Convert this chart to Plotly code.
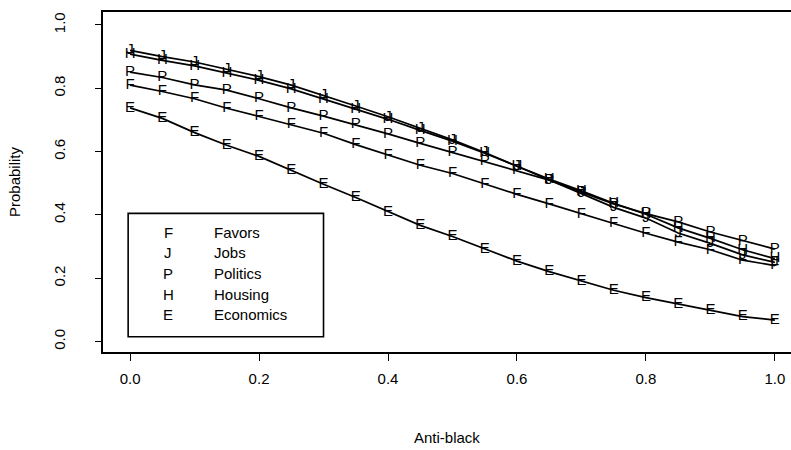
import plotly.graph_objects as go

# ---- data ----
anti_black = [0.0, 0.05, 0.10, 0.15, 0.20, 0.25, 0.30, 0.35, 0.40, 0.45, 0.50,
              0.55, 0.60, 0.65, 0.70, 0.75, 0.80, 0.85, 0.90, 0.95, 1.00]

favors = [0.810, 0.790, 0.767, 0.737, 0.711, 0.685, 0.658, 0.622, 0.590, 0.557, 0.531,
          0.498, 0.465, 0.435, 0.403, 0.373, 0.342, 0.314, 0.290, 0.257, 0.240]
jobs = [0.920, 0.900, 0.883, 0.860, 0.837, 0.810, 0.778, 0.744, 0.710, 0.673, 0.637,
        0.597, 0.554, 0.510, 0.468, 0.424, 0.390, 0.343, 0.310, 0.274, 0.250]
politics = [0.851, 0.834, 0.811, 0.794, 0.767, 0.738, 0.712, 0.685, 0.656, 0.626, 0.597,
            0.570, 0.541, 0.510, 0.472, 0.435, 0.404, 0.378, 0.346, 0.318, 0.292]
housing = [0.908, 0.888, 0.871, 0.848, 0.825, 0.798, 0.766, 0.734, 0.702, 0.667, 0.633,
           0.595, 0.554, 0.513, 0.476, 0.437, 0.402, 0.359, 0.326, 0.290, 0.262]
economics = [0.738, 0.705, 0.660, 0.620, 0.585, 0.540, 0.497, 0.455, 0.410, 0.367, 0.332,
             0.293, 0.254, 0.221, 0.192, 0.162, 0.139, 0.119, 0.099, 0.079, 0.068]

series_letters = ["F", "J", "P", "H", "E"]
series_names = ["Favors", "Jobs", "Politics", "Housing", "Economics"]
series_values = [favors, jobs, politics, housing, economics]

x_ticks = [0.0, 0.2, 0.4, 0.6, 0.8, 1.0]
x_tick_labels = ["0.0", "0.2", "0.4", "0.6", "0.8", "1.0"]
y_ticks = [0.0, 0.2, 0.4, 0.6, 0.8, 1.0]
y_tick_labels = ["0.0", "0.2", "0.4", "0.6", "0.8", "1.0"]

FONT = "Liberation Sans, Arial, sans-serif"

fig = go.Figure()
for letter, name, vals in zip(series_letters, series_names, series_values):
    fig.add_trace(go.Scatter(
        x=anti_black, y=vals, name=name,
        mode="lines+text",
        text=[letter] * len(vals),
        textposition="middle center",
        textfont=dict(family=FONT, size=15, color="#000000"),
        line=dict(color="#000000", width=1.7),
        showlegend=False,
    ))

# legend box (drawn like the R legend)
fig.add_shape(type="rect", xref="x", yref="y", x0=-0.003, x1=0.30, y0=0.015, y1=0.405,
              line=dict(color="black", width=1.6), fillcolor="rgba(0,0,0,0)")
legend_rows = [0.345, 0.280, 0.216, 0.150, 0.087]
for letter, name, yy in zip(series_letters, series_names, legend_rows):
    fig.add_annotation(x=0.059, y=yy, xref="x", yref="y", text=letter, showarrow=False,
                       font=dict(family=FONT, size=15, color="black"),
                       xanchor="center", yanchor="middle")
    fig.add_annotation(x=0.127, y=yy, xref="x", yref="y", text=name, showarrow=False,
                       font=dict(family=FONT, size=15, color="black"),
                       xanchor="left", yanchor="middle")

# axis titles
fig.add_annotation(x=0.5, y=(352 - 437) / 340, xref="paper", yref="paper",
                   text="Anti-black", showarrow=False,
                   font=dict(family=FONT, size=15, color="black"),
                   xanchor="center", yanchor="middle")
fig.add_annotation(x=(14 - 103) / 688, y=0.5, xref="paper", yref="paper",
                   text="Probability", showarrow=False, textangle=-90,
                   font=dict(family=FONT, size=15, color="black"),
                   xanchor="center", yanchor="middle")

fig.update_layout(
    width=791, height=450,
    margin=dict(l=103, r=0, t=12, b=98, pad=0),
    paper_bgcolor="white", plot_bgcolor="white",
    font=dict(family=FONT, size=15, color="black"),
    xaxis=dict(range=[-0.042, 1.025], tickvals=x_ticks, ticktext=x_tick_labels,
               showgrid=False, zeroline=False, showline=True, linecolor="black",
               linewidth=1.6, mirror=True, ticks="outside", ticklen=7,
               tickcolor="black", tickwidth=1, ticklabelstandoff=5,
               tickfont=dict(family=FONT, size=15)),
    yaxis=dict(range=[-0.033, 1.041], tickvals=y_ticks, ticktext=y_tick_labels,
               showgrid=False, zeroline=False, showline=True, linecolor="black",
               linewidth=1.6, mirror=False, ticks="outside", ticklen=6,
               tickcolor="black", tickwidth=1, tickangle=-90, ticklabelstandoff=24,
               tickfont=dict(family=FONT, size=15)),
)

fig.write_html("out.html")
